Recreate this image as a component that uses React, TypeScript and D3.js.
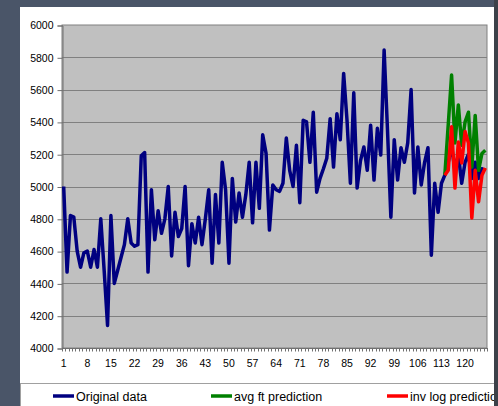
import React, { useEffect, useRef } from 'react';
import * as d3 from 'd3';

// original series, one value per period (1..126)
const original: number[] = [
  5000, 4470, 4820, 4810, 4600, 4500, 4590, 4600, 4500, 4610,
  4500, 4800, 4480, 4140, 4820, 4400, 4480, 4560, 4640, 4800,
  4650, 4630, 4640, 5190, 5210, 4470, 4980, 4670, 4850, 4710,
  4800, 5000, 4570, 4840, 4690, 4740, 5000, 4510, 4770, 4650,
  4810, 4640, 4800, 4980, 4525, 4950, 4650, 5150, 4980, 4525,
  5050, 4780, 4960, 4810, 4950, 5150, 4775, 5150, 4865, 5320,
  5205, 4730, 5010, 4980, 4970, 5020, 5300, 5100, 5000, 5255,
  4900, 5410, 5400, 5150, 5460, 4965, 5050, 5110, 5175, 5420,
  5120, 5450, 5290, 5700, 5410, 5020, 5580, 4990, 5160, 5245,
  5100, 5380, 5040, 5360, 5195, 5845, 5350, 4810, 5290, 5040,
  5240, 5150, 5270, 5600, 4960, 5245, 5010, 5150, 5240, 4575,
  5020, 4840, 5020, 5070, 5150, 5250, 5100, 5200, 5020, 5150,
  5200, 5050, 5150, 5050, 5110, 5100,
];

// predictions start at period 114
const predStart = 114;
const avgFt: number[] = [5070, 5380, 5690, 5270, 5505, 5255, 5400, 5460, 5120, 5440, 5100, 5205, 5225];
const invLog: number[] = [5070, 5100, 5370, 4990, 5275, 5145, 5340, 5270, 4805, 5100, 4905, 5070, 5115];

const yTicks = [4000, 4200, 4400, 4600, 4800, 5000, 5200, 5400, 5600, 5800, 6000];
const xLabels = [1, 8, 15, 22, 29, 36, 43, 50, 57, 64, 71, 78, 85, 92, 99, 106, 113, 120];

const legendItems = [
  { name: 'Original data', color: '#000080' },
  { name: 'avg ft prediction', color: '#008000' },
  { name: 'inv log prediction', color: '#ff0000' },
];

const W = 498;
const H = 406;
const font = '"Liberation Sans", Arial, sans-serif';

const App: React.FC = () => {
  const ref = useRef<SVGSVGElement>(null);

  useEffect(() => {
    if (!ref.current) return;
    const svg = d3.select(ref.current);
    svg.selectAll('*').remove();

    // background frame
    svg.append('rect').attr('width', W).attr('height', H).attr('fill', '#4a5568');
    svg.append('rect').attr('x', 494).attr('width', 4).attr('height', H).attr('fill', '#3c4149');
    svg.append('rect').attr('x', 20).attr('y', 7).attr('width', 474).attr('height', H - 7).attr('fill', '#ffffff');

    const plot = { left: 62, right: 487, top: 25, bottom: 348 };

    const periods = original.map((_, i) => i + 1);
    const x = d3.scaleBand<number>().domain(periods).range([plot.left, plot.right]).padding(0);
    const cx = (p: number) => (x(p) ?? 0) + x.bandwidth() / 2;
    const y = d3.scaleLinear().domain([4000, 6000]).range([plot.bottom, plot.top]);

    svg.append('rect')
      .attr('x', plot.left).attr('y', plot.top)
      .attr('width', plot.right - plot.left).attr('height', plot.bottom - plot.top)
      .attr('fill', '#c0c0c0').attr('stroke', '#808080').attr('stroke-width', 1);

    // gridlines
    svg.append('g').selectAll('line').data(yTicks.slice(1, -1)).join('line')
      .attr('x1', plot.left).attr('x2', plot.right)
      .attr('y1', d => Math.round(y(d)) + 0.5).attr('y2', d => Math.round(y(d)) + 0.5)
      .attr('stroke', '#808080');

    // y axis
    const yAxis = svg.append('g')
      .attr('transform', `translate(${plot.left + 0.5},0.5)`)
      .call(d3.axisLeft(y).tickValues(yTicks).tickSize(5).tickPadding(4).tickFormat(d3.format('d')));
    yAxis.select('.domain').attr('stroke', '#707070');
    yAxis.selectAll('.tick line').attr('stroke', '#707070');
    yAxis.selectAll('text').attr('font-family', font).attr('font-size', 10.5).attr('fill', '#000');

    // x axis with a tick per category boundary
    const bounds = periods.map(p => x(p) ?? 0).concat([plot.right]);
    const xg = svg.append('g');
    xg.append('line')
      .attr('x1', plot.left).attr('x2', plot.right)
      .attr('y1', plot.bottom + 0.5).attr('y2', plot.bottom + 0.5)
      .attr('stroke', '#707070');
    xg.selectAll('line.t').data(bounds).join('line').attr('class', 't')
      .attr('x1', d => Math.round(d) + 0.5).attr('x2', d => Math.round(d) + 0.5)
      .attr('y1', plot.bottom).attr('y2', plot.bottom + 3.5)
      .attr('stroke', '#707070');
    xg.selectAll('text').data(xLabels).join('text')
      .attr('x', d => cx(d)).attr('y', plot.bottom + 19)
      .attr('text-anchor', 'middle')
      .attr('font-family', font).attr('font-size', 10.5)
      .text(d => d);

    const line = d3.line<[number, number]>()
      .x(d => cx(d[0]))
      .y(d => y(d[1]));

    const series = [
      { color: '#000080', pts: original.map((v, i) => [i + 1, v] as [number, number]) },
      { color: '#008000', pts: avgFt.map((v, i) => [predStart + i, v] as [number, number]) },
      { color: '#ff0000', pts: invLog.map((v, i) => [predStart + i, v] as [number, number]) },
    ];

    svg.append('g').selectAll('path').data(series).join('path')
      .attr('fill', 'none')
      .attr('stroke', d => d.color)
      .attr('stroke-width', 3.5)
      .attr('stroke-linejoin', 'round')
      .attr('d', d => line(d.pts));

    // legend
    const lg = svg.append('g');
    lg.append('rect')
      .attr('x', 20.5).attr('y', 383.5).attr('width', 480).attr('height', 40)
      .attr('fill', '#ffffff').attr('stroke', '#a0a0a0');
    const legendX = [53, 211, 387];
    legendItems.forEach((item, i) => {
      lg.append('line')
        .attr('x1', legendX[i]).attr('x2', legendX[i] + 21)
        .attr('y1', 396).attr('y2', 396)
        .attr('stroke', item.color).attr('stroke-width', 3.5);
      lg.append('text')
        .attr('x', legendX[i] + 23).attr('y', 400.5)
        .attr('font-family', font).attr('font-size', 12.5)
        .text(item.name);
    });
    svg.append('rect').attr('x', 494).attr('y', 380).attr('width', 4).attr('height', 26).attr('fill', '#3c4149');
  }, []);

  return (
    <svg
      ref={ref}
      width={W}
      height={H}
      style={{ position: 'absolute', left: 0, top: 0 }}
    />
  );
};

export default App;
